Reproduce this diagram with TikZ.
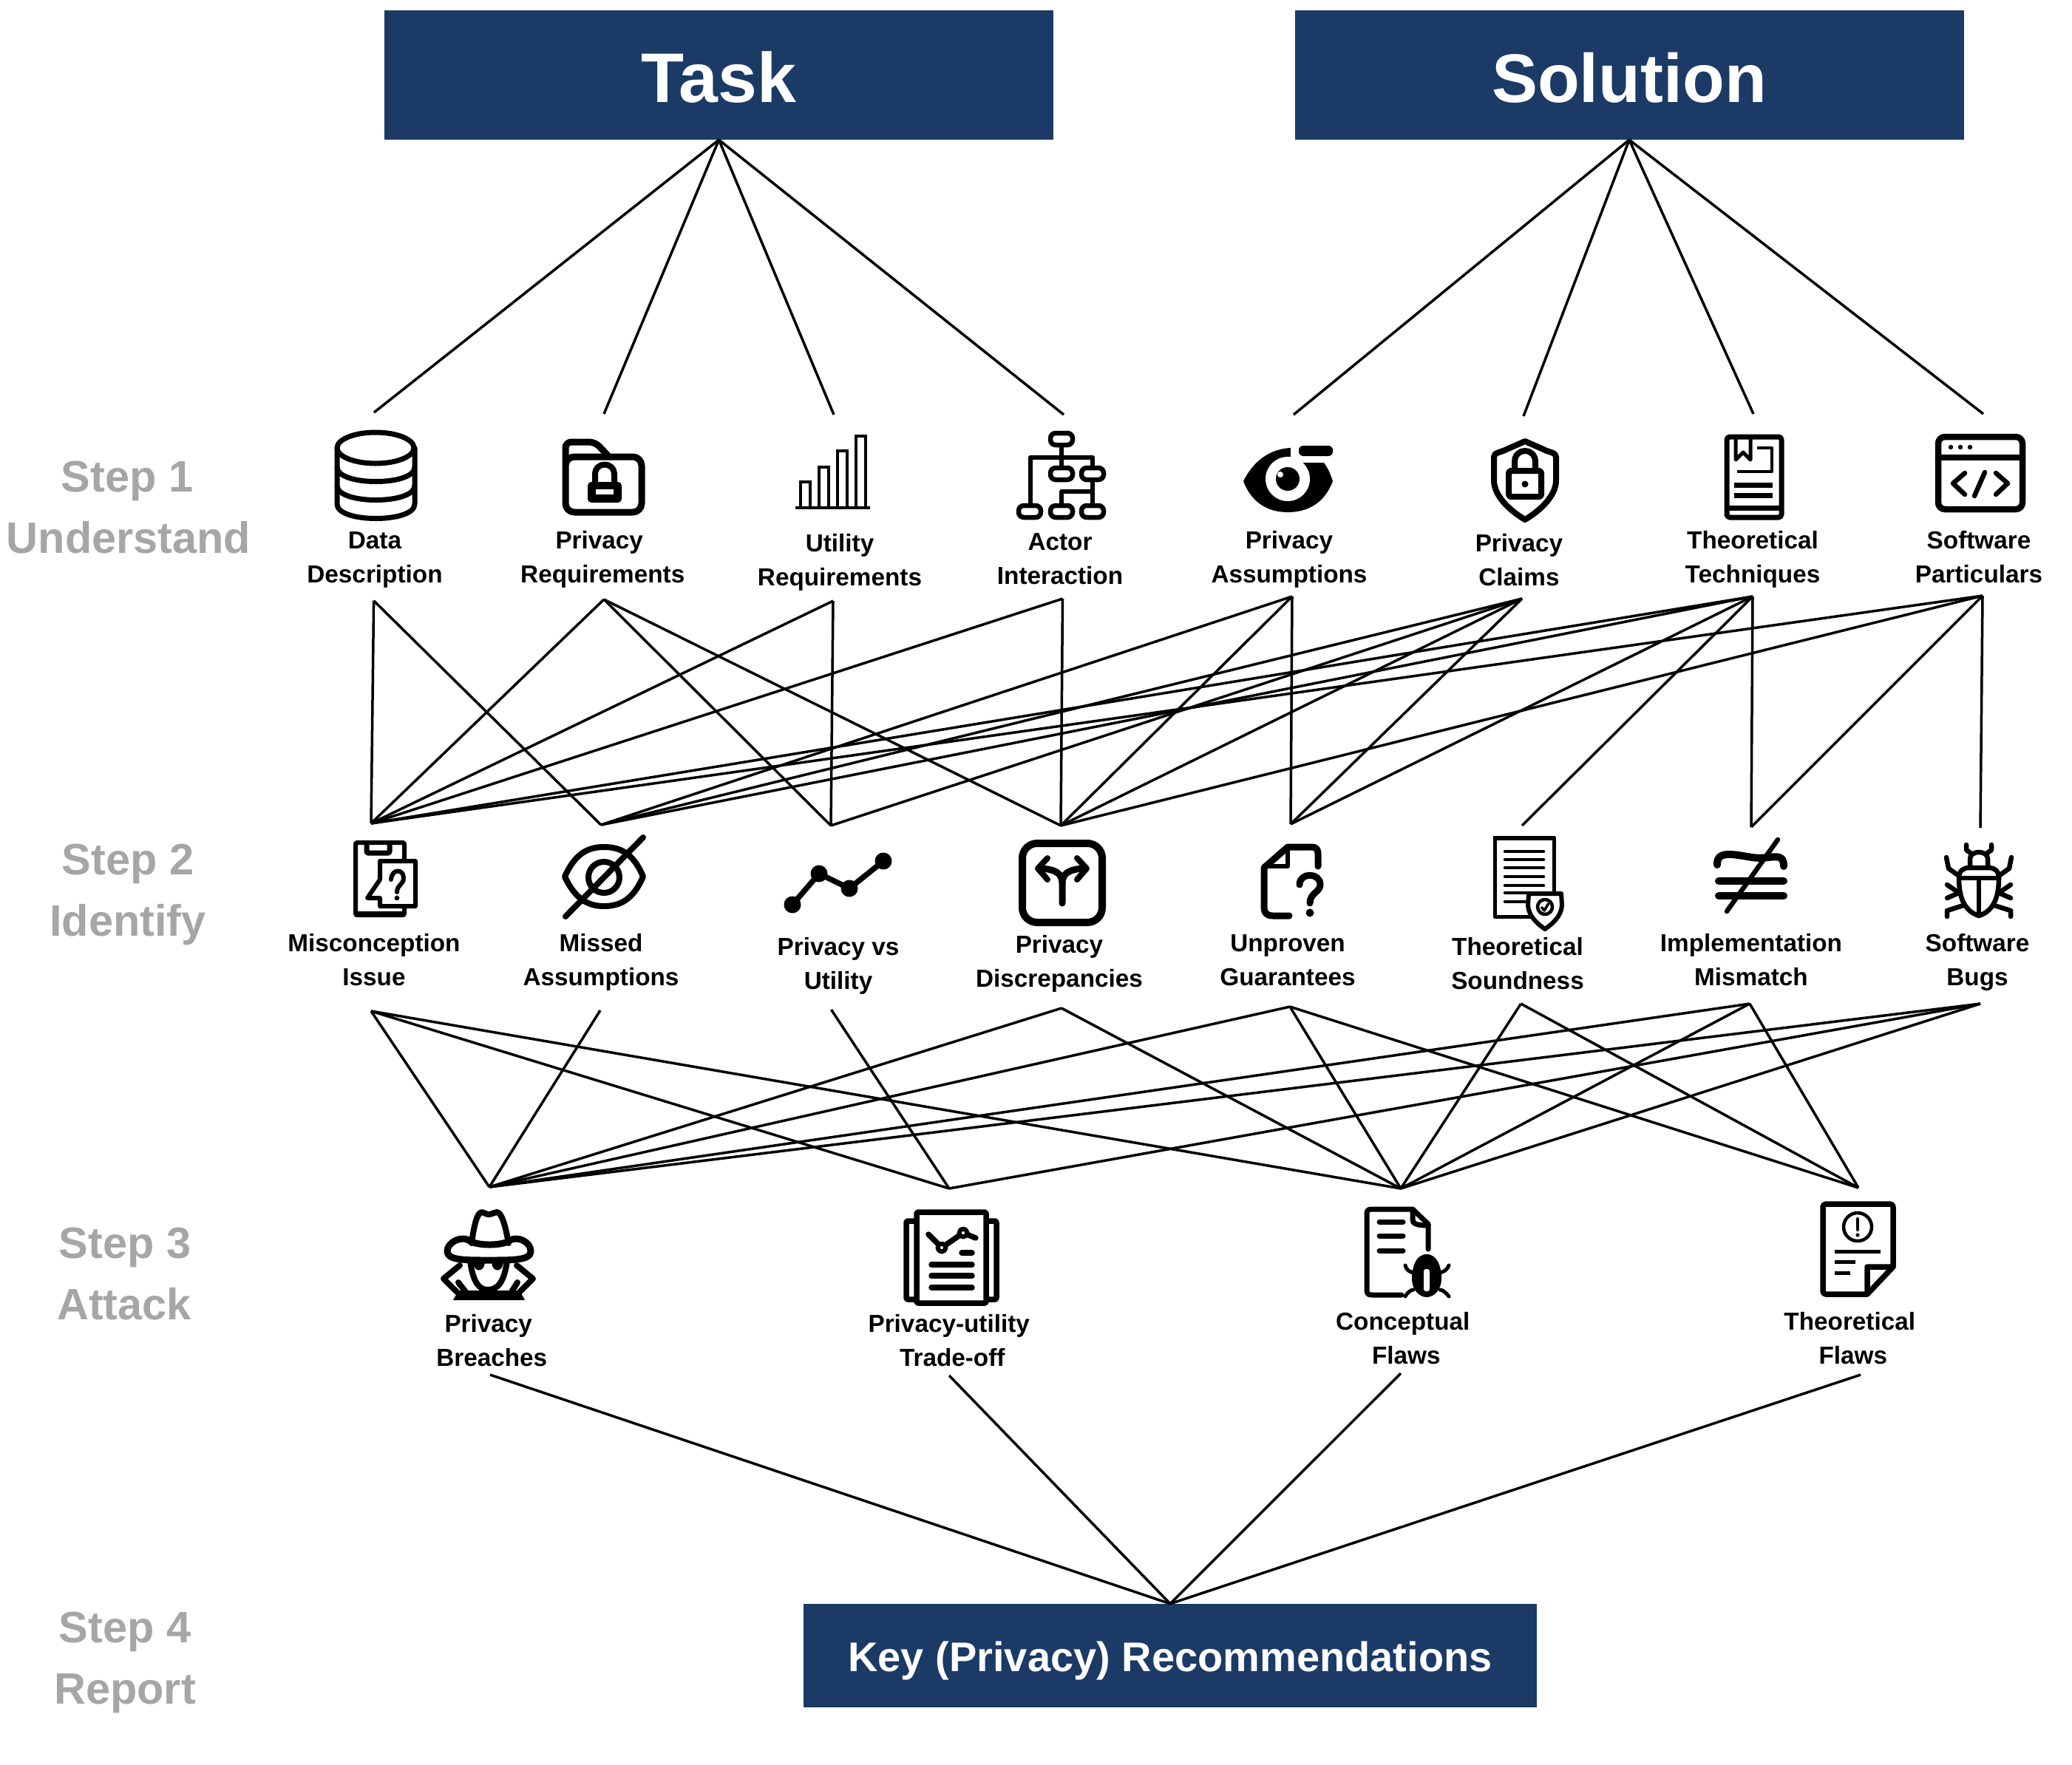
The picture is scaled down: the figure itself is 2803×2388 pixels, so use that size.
\documentclass[tikz,border=0pt]{standalone}
\usepackage{fontspec}
\setmainfont{Liberation Sans}
\definecolor{navy}{HTML}{1B3A66}
\definecolor{stepgray}{HTML}{A6A6A6}
\newcommand{\twol}[2]{\rule{0pt}{30pt}#1\\#2\rule[-10pt]{0pt}{10pt}}
\newcommand{\twox}[2]{\rule{0pt}{30pt}#1\hspace*{4.5pt}\\\hspace*{4.5pt}#2\rule[-10pt]{0pt}{10pt}}
\tikzset{
  edge/.style={draw=black,line width=3.5pt},
  hdr/.style={fill=navy,text=white,font=\bfseries\fontsize{95}{100}\selectfont,inner sep=0pt,text height=73pt,text depth=0pt},
  lbl/.style={font=\bfseries\fontsize{33.3}{46}\selectfont,align=center,inner sep=0pt},
  steplbl/.style={font=\bfseries\fontsize{59.5}{84}\selectfont,align=center,inner sep=0pt,text=stepgray},
  ic/.style={line width=#1,line cap=round,line join=round},
  ic/.default=7pt
}
\begin{document}
\begin{tikzpicture}[x=1pt,y=-1pt]
\useasboundingbox (0,0) rectangle (2803,2388);
% edge end points
\coordinate (dT) at (506,558);   \coordinate (pT) at (817,560);   \coordinate (uT) at (1128,561);  \coordinate (aT) at (1439,561);
\coordinate (paT) at (1750,561); \coordinate (pcT) at (2061,563); \coordinate (tT) at (2372,560);  \coordinate (sT) at (2683,560);
\coordinate (dB) at (505.6,812.7); \coordinate (pB) at (817,811); \coordinate (uB) at (1127,813);  \coordinate (aB) at (1437.5,810);
\coordinate (paB) at (1748,807); \coordinate (pcB) at (2059,810); \coordinate (tB) at (2371,807);  \coordinate (sB) at (2682,806);
\coordinate (mT) at (502,1114);  \coordinate (maT) at (813,1116); \coordinate (vT) at (1124,1117); \coordinate (pdT) at (1435,1117);
\coordinate (gT) at (1746,1115); \coordinate (tsT) at (2059,1117); \coordinate (imT) at (2369,1119); \coordinate (bT) at (2679,1120);
\coordinate (mB) at (502,1368);  \coordinate (maB) at (812,1367); \coordinate (vB) at (1124.5,1366); \coordinate (pdB) at (1436,1364);
\coordinate (gB) at (1745,1362); \coordinate (tsB) at (2057.5,1358); \coordinate (imB) at (2367,1358); \coordinate (bB) at (2679,1358);
\coordinate (brT) at (662,1606); \coordinate (trT) at (1284,1608); \coordinate (cfT) at (1895,1608); \coordinate (tfT) at (2514,1607);
\coordinate (brB) at (663,1860); \coordinate (trB) at (1284,1861); \coordinate (cfB) at (1895,1858); \coordinate (tfB) at (2517,1860);
% boxes
\node[hdr,minimum width=905pt,minimum height=175pt] (task) at (972.5,101.5) {Task};
\node[hdr,font=\bfseries\fontsize{93}{100}\selectfont,minimum width=905pt,minimum height=175pt] (sol) at (2204,101.5) {Solution};
\node[hdr,font=\bfseries\fontsize{56}{60}\selectfont,text height=42pt,minimum width=992pt,minimum height=140pt] (key) at (1583,2240) {Key (Privacy) Recommendations};
% connectors
\foreach \f/\t in {task.south/dT,task.south/pT,task.south/uT,task.south/aT,sol.south/paT,sol.south/pcT,sol.south/tT,sol.south/sT,
 dB/mT,dB/maT,pB/mT,pB/vT,pB/pdT,uB/mT,uB/vT,aB/mT,aB/pdT,paB/maT,paB/pdT,paB/gT,
 pcB/maT,pcB/vT,pcB/pdT,pcB/gT,tB/mT,tB/maT,tB/gT,tB/tsT,tB/imT,sB/mT,sB/pdT,sB/imT,sB/bT,
 mB/brT,mB/trT,mB/cfT,maB/brT,vB/trT,pdB/brT,pdB/cfT,gB/brT,gB/cfT,gB/tfT,tsB/cfT,tsB/tfT,
 imB/brT,imB/cfT,imB/tfT,bB/brT,bB/trT,bB/cfT,
 brB/key.north,trB/key.north,cfB/key.north,tfB/key.north}
  \draw[edge] (\f) -- (\t);
% step labels
\node[steplbl,anchor=base] (st1a) at (172,665) {Step 1};
\node[steplbl,anchor=base] (st1b) at (174,748) {Understand};
\node[steplbl,anchor=base] (st2a) at (173,1183) {Step 2};
\node[steplbl,anchor=base] (st2b) at (173,1266) {Identify};
\node[steplbl,anchor=base] (st3a) at (169,1702) {Step 3};
\node[steplbl,anchor=base] (st3b) at (168,1785) {Attack};
\node[steplbl,anchor=base] (st4a) at (169,2222) {Step 4};
\node[steplbl,anchor=base] (st4b) at (169,2305) {Report};
% labels (centre y = first baseline + 13)
\node[lbl] (l1) at (507,755) {\twol{Data}{Description}};
\node[lbl] (l2) at (813,755) {\twox{Privacy}{Requirements}};
\node[lbl] (l3) at (1136,759) {\twol{Utility}{Requirements}};
\node[lbl] (l4) at (1434,757) {\twol{Actor}{Interaction}};
\node[lbl] (l5) at (1744,755) {\twol{Privacy}{Assumptions}};
\node[lbl] (l6) at (2055,759) {\twol{Privacy}{Claims}};
\node[lbl] (l7) at (2371,755) {\twol{Theoretical}{Techniques}};
\node[lbl] (l8) at (2677,755) {\twol{Software}{Particulars}};
\node[lbl] (l9) at (506,1300) {\twol{Misconception}{Issue}};
\node[lbl] (l10) at (813,1300) {\twol{Missed}{Assumptions}};
\node[lbl] (l11) at (1134,1305) {\twol{Privacy vs}{Utility}};
\node[lbl] (l12) at (1433,1302) {\twol{Privacy}{Discrepancies}};
\node[lbl] (l13) at (1742,1300) {\twol{Unproven}{Guarantees}};
\node[lbl] (l14) at (2053,1305) {\twol{Theoretical}{Soundness}};
\node[lbl] (l15) at (2369,1300) {\twol{Implementation}{Mismatch}};
\node[lbl] (l16) at (2675,1300) {\twol{Software}{Bugs}};
\node[lbl] (l17) at (663,1815) {\twox{Privacy}{Breaches}};
\node[lbl] (l18) at (1286,1815) {\twox{Privacy-utility}{Trade-off}};
\node[lbl] (l19) at (1900,1812) {\twox{Conceptual}{Flaws}};
\node[lbl] (l20) at (2504.5,1812) {\twox{Theoretical}{Flaws}};

% ---- icons row 1
% database
\begin{scope}[ic=7pt]
\draw (508,606) ellipse [x radius=52,y radius=21];
\draw (456,606) -- (456,682) .. controls (456,708) and (561,708) .. (561,682) -- (561,606);
\draw (456,632) .. controls (456,658) and (561,658) .. (561,632);
\draw (456,657) .. controls (456,683) and (561,683) .. (561,657);
\end{scope}
% folder lock
\begin{scope}[ic=9pt]
\draw[rounded corners=12pt] (765,618) -- (868,618) -- (868,693) -- (765,693) -- cycle;
\draw[rounded corners=8pt] (765,626) -- (765,598) -- (805,598) -- (824,618);
\draw[line width=8pt] (805,655) -- (805,642) .. controls (805,624) and (831,624) .. (831,642) -- (831,655);
\fill[rounded corners=5pt] (795,652) rectangle (841,680);
\fill[white] (806,662) rectangle (830,669);
\end{scope}
% bars
\begin{scope}[line width=3.5pt]
\draw (1076,687) -- (1177,687);
\draw (1083,687) -- (1083,652) -- (1096,652) -- (1096,687);
\draw (1108,687) -- (1108,632) -- (1121,632) -- (1121,687);
\draw (1133,687) -- (1133,610) -- (1146,610) -- (1146,687);
\draw (1158,687) -- (1158,590) -- (1171,590) -- (1171,687);
\end{scope}
% actor tree
\begin{scope}[line width=6.5pt,line join=round]
\draw (1436,605) -- (1436,630);
\draw (1394,681) -- (1394,619) -- (1478,619) -- (1478,681);
\draw (1436,681) -- (1436,665) -- (1478,665);
\foreach \xa/\ya in {1421/586,1421/633,1463/633,1378/684,1421/684,1463/684}
  \draw[rounded corners=7pt,fill=white] (\xa,\ya) rectangle ++(30,16);
\end{scope}
% eye
\fill (1682,651) .. controls (1695,625) and (1716,608) .. (1745,606) -- (1790,625) .. controls (1796,632) and (1800,642) .. (1803,651) .. controls (1792,680) and (1770,693) .. (1742,693) .. controls (1715,693) and (1693,680) .. (1682,651) -- cycle;
\fill[white] (1742,648) ellipse [x radius=30,y radius=30];
\fill (1742,648) ellipse [x radius=16,y radius=16];
\fill[white] (1732,642) circle [radius=4];
\fill[white] (1746,598) rectangle (1810,626);
\fill[rounded corners=6pt] (1757,603) rectangle (1803,617);
% shield
\begin{scope}[ic=8pt]
\draw (2063,597) -- (2088,608) .. controls (2095,612) and (2105,612) .. (2105,618) -- (2105,650) .. controls (2105,670) and (2085,690) .. (2063,703) .. controls (2041,690) and (2021,670) .. (2021,650) -- (2021,618) .. controls (2021,612) and (2031,612) .. (2038,608) -- cycle;
\draw[rounded corners=3pt] (2041,637) rectangle (2085,672);
\draw (2049,637) -- (2049,625) .. controls (2049,605) and (2077,605) .. (2077,625) -- (2077,637);
\fill (2063,655) circle [radius=4.5];
\end{scope}
% book
\begin{scope}[line width=7pt,line join=round]
\draw[rounded corners=4pt] (2336,591) rectangle (2410,700);
\draw (2336,687) -- (2410,687);
\draw[line width=5pt] (2348,592) -- (2348,622) -- (2358,612) -- (2368,622) -- (2368,592);
\draw[line width=4.5pt] (2377,606) -- (2397,606) -- (2397,638) -- (2350,638);
\fill (2346,653) rectangle (2398,660);
\fill (2346,667) rectangle (2398,674);
\end{scope}
% code window
\begin{scope}[ic=8.5pt]
\draw[rounded corners=9pt] (2622,591) rectangle (2736,689);
\draw (2622,619) -- (2736,619);
\foreach \xa in {2639,2652,2665} \fill (\xa,605) circle [radius=3.2];
\draw[line width=6.5pt] (2658,640) -- (2642,654) -- (2658,669);
\draw[line width=6.5pt] (2685,639) -- (2671,671);
\draw[line width=6.5pt] (2700,640) -- (2716,654) -- (2700,669);
\end{scope}
% ---- icons row 2
% phone question
\begin{scope}[line width=6pt,line join=round]
\draw[rounded corners=2pt] (481,1140) rectangle (547,1238);
\draw[rounded corners=2pt,line width=7pt] (496,1140) -- (496,1154) -- (527,1154) -- (527,1140);
\fill (481,1233) rectangle (547,1241);
\draw[fill=white] (514,1165) -- (562,1165) -- (562,1226) -- (514,1226) -- (514,1215) -- (497,1215) -- (514,1190) -- cycle;
\draw[line cap=round] (529,1190) .. controls (530,1175) and (546,1175) .. (546,1188) .. controls (546,1197) and (537,1197) .. (537,1207);
\fill (537,1215) circle [radius=3.4];
\end{scope}
% eye off
\begin{scope}[ic=8pt]
\draw (764,1186) .. controls (778,1155) and (795,1146) .. (817,1146) .. controls (840,1146) and (857,1155) .. (870,1186) .. controls (857,1216) and (840,1226) .. (817,1226) .. controls (795,1226) and (778,1216) .. (764,1186) -- cycle;
\draw (817,1187) circle [radius=21];
\draw (870,1133) -- (765,1240);
\end{scope}
% line graph
\begin{scope}[ic=7.5pt]
\draw (1072,1224) -- (1108,1182) -- (1149,1202) -- (1195,1165);
\foreach \xa/\ya in {1072/1224,1108/1182,1149/1202,1195/1165} \fill (\xa,\ya) circle [radius=11.5];
\end{scope}
% split arrows box
\begin{scope}[ic=10pt]
\draw[rounded corners=20pt] (1383,1141) rectangle (1491,1248);
\draw[line width=9pt] (1437,1222) -- (1437,1195) .. controls (1437,1180) and (1425,1176) .. (1408,1175);
\draw[line width=9pt] (1437,1195) .. controls (1437,1180) and (1449,1176) .. (1466,1175);
\draw[line width=8pt] (1417,1161) -- (1404,1175) -- (1417,1190);
\draw[line width=8pt] (1457,1161) -- (1470,1175) -- (1457,1190);
\end{scope}
% file question
\begin{scope}[ic=9pt]
\draw (1783,1172) -- (1783,1156) .. controls (1783,1148) and (1780,1146) .. (1774,1146) -- (1742,1146) -- (1710,1174) -- (1710,1226) .. controls (1710,1236) and (1714,1239) .. (1722,1239) -- (1744,1239);
\draw[line width=6pt] (1742,1146) -- (1742,1172) -- (1710,1172);
\draw (1758,1197) .. controls (1758,1180) and (1786,1180) .. (1786,1197) .. controls (1786,1207) and (1772,1208) .. (1772,1222);
\fill (1772,1235) circle [radius=5.5];
\end{scope}
% doc shield
\begin{scope}[line join=round]
\draw[line width=5pt] (2022,1133) rectangle (2102,1240);
\fill (2020,1131) rectangle (2104,1137);
\foreach \ya in {1152,1163,1174,1186,1198,1208,1220} \draw[line width=4.5pt,line cap=round] (2036,\ya) -- (2088,\ya);
\draw[line width=6pt,fill=white] (2068,1209) -- (2112,1209) -- (2113,1225) .. controls (2112,1240) and (2100,1250) .. (2090,1257) .. controls (2080,1250) and (2068,1240) .. (2067,1225) -- cycle;
\draw[line width=4.5pt] (2090,1227) circle [radius=10];
\draw[line width=3.5pt] (2085,1227) -- (2089,1232) -- (2095,1222);
\end{scope}
% not equal
\begin{scope}[ic=10pt]
\draw (2323,1170) .. controls (2322,1150) and (2345,1156) .. (2370,1160) .. controls (2395,1164) and (2413,1150) .. (2413,1172);
\draw (2325,1192) -- (2413,1192);
\draw (2325,1212) -- (2413,1212);
\draw[line width=6.5pt] (2405,1136) -- (2336,1233);
\end{scope}
% software bug
\begin{scope}[ic=6.5pt]
\draw[fill=white] (2677,1239) .. controls (2655,1232) and (2650,1210) .. (2650,1188) .. controls (2650,1178) and (2656,1174) .. (2664,1174) -- (2690,1174) .. controls (2698,1174) and (2704,1178) .. (2704,1188) .. controls (2704,1210) and (2699,1232) .. (2677,1239) -- cycle;
\draw (2665,1174) -- (2665,1162) .. controls (2665,1150) and (2689,1150) .. (2689,1162) -- (2689,1174);
\draw (2650,1188) -- (2704,1188);
\draw (2677,1188) -- (2677,1238);
\draw (2667,1155) -- (2660,1150) -- (2660,1143);
\draw (2687,1155) -- (2694,1150) -- (2694,1143);
\draw (2650,1185) -- (2636,1175) -- (2633,1160);
\draw (2704,1185) -- (2718,1175) -- (2721,1160);
\draw (2650,1208) -- (2634,1197) ;
\draw (2650,1208) -- (2634,1215);
\draw (2704,1208) -- (2720,1197);
\draw (2704,1208) -- (2720,1215);
\draw (2656,1225) -- (2634,1232) -- (2634,1240);
\draw (2698,1225) -- (2720,1232) -- (2720,1240);
\end{scope}
% ---- icons row 3
% spy
\begin{scope}[ic=8pt]
\draw (638,1682) .. controls (641,1660) and (645,1640) .. (652,1640) .. controls (655,1640) and (657,1643) .. (661,1643) .. controls (666,1643) and (668,1640) .. (672,1640) .. controls (679,1640) and (684,1660) .. (688,1682);
\draw[line width=9pt] (605,1693) .. controls (605,1680) and (625,1672) .. (634,1678) .. controls (645,1686) and (680,1686) .. (690,1678) .. controls (700,1672) and (718,1680) .. (718,1693) .. controls (718,1705) and (695,1705) .. (661,1705) .. controls (628,1705) and (605,1705) .. (605,1693) -- cycle;
\draw (636,1706) .. controls (640,1735) and (648,1745) .. (660,1745) .. controls (673,1745) and (682,1735) .. (686,1706);
\fill (640,1708) .. controls (641,1722) and (655,1722) .. (656,1708) -- cycle;
\fill (665,1708) .. controls (666,1722) and (680,1722) .. (681,1708) -- cycle;
\draw (622,1712) -- (600,1730) -- (618,1748);
\draw (699,1712) -- (721,1730) -- (703,1748);
\draw (620,1735) -- (630,1748);
\draw (700,1735) -- (692,1748);
\fill (620,1746) -- (703,1746) -- (710,1759) -- (613,1759) -- cycle;
\end{scope}
% doc chart
\begin{scope}[ic=7.5pt]
\draw[rounded corners=2pt] (1239,1652) -- (1226,1652) -- (1226,1758) -- (1239,1758);
\draw[rounded corners=2pt] (1335,1652) -- (1348,1652) -- (1348,1758) -- (1335,1758);
\draw[rounded corners=2pt] (1240,1640) rectangle (1334,1763);
\draw (1256,1670) -- (1274,1688) -- (1303,1668) -- (1320,1675);
\foreach \xa/\ya in {1274/1688,1303/1668} \draw[fill=white,line width=6pt] (\xa,\ya) circle [radius=5.5];
\draw (1301,1695) -- (1315,1695);
\draw (1260,1711) -- (1315,1711);
\draw (1260,1726) -- (1315,1726);
\draw (1260,1742) -- (1315,1742);
\end{scope}
% doc bug
\begin{scope}[ic=7pt]
\draw (1932,1690) -- (1932,1656) -- (1911,1636) -- (1856,1636) .. controls (1850,1636) and (1849,1638) .. (1849,1643) -- (1849,1744) .. controls (1849,1750) and (1850,1752) .. (1856,1752) -- (1896,1752);
\draw (1911,1636) -- (1911,1650) .. controls (1911,1655) and (1915,1658) .. (1932,1658);
\draw (1866,1653) -- (1898,1653);
\draw (1866,1672) -- (1898,1672);
\draw (1866,1692) -- (1898,1692);
\fill (1930,1697) .. controls (1945,1697) and (1950,1715) .. (1950,1730) .. controls (1950,1745) and (1940,1755) .. (1930,1755) .. controls (1920,1755) and (1910,1745) .. (1910,1730) .. controls (1910,1715) and (1915,1697) .. (1930,1697) -- cycle;
\fill[white,rounded corners=3pt] (1926,1717) rectangle (1934,1747);
\draw[line width=5pt] (1914,1722) .. controls (1908,1722) and (1902,1718) .. (1901,1712);
\draw[line width=5pt] (1946,1722) .. controls (1952,1722) and (1958,1718) .. (1960,1712);
\draw[line width=5pt] (1912,1745) .. controls (1908,1745) and (1903,1750) .. (1901,1754);
\draw[line width=5pt] (1948,1745) .. controls (1952,1745) and (1957,1750) .. (1960,1754);
\end{scope}
% doc exclaim
\begin{scope}[line width=7.5pt,line join=round]
\draw[rounded corners=4pt] (2561,1714) -- (2561,1629) -- (2466,1629) -- (2466,1751) -- (2526,1751);
\draw (2561,1714) -- (2526,1751) -- (2526,1714) -- cycle;
\draw[line width=4.5pt] (2513,1660) circle [radius=19];
\draw[line width=4pt,line cap=round] (2513,1649) -- (2513,1664);
\fill (2513,1671) circle [radius=2.6];
\draw[line width=5pt] (2482,1693) -- (2544,1693);
\draw[line width=5pt] (2482,1707) -- (2510,1707);
\draw[line width=5pt] (2482,1722) -- (2503,1722);
\end{scope}
\end{tikzpicture}
\end{document}
